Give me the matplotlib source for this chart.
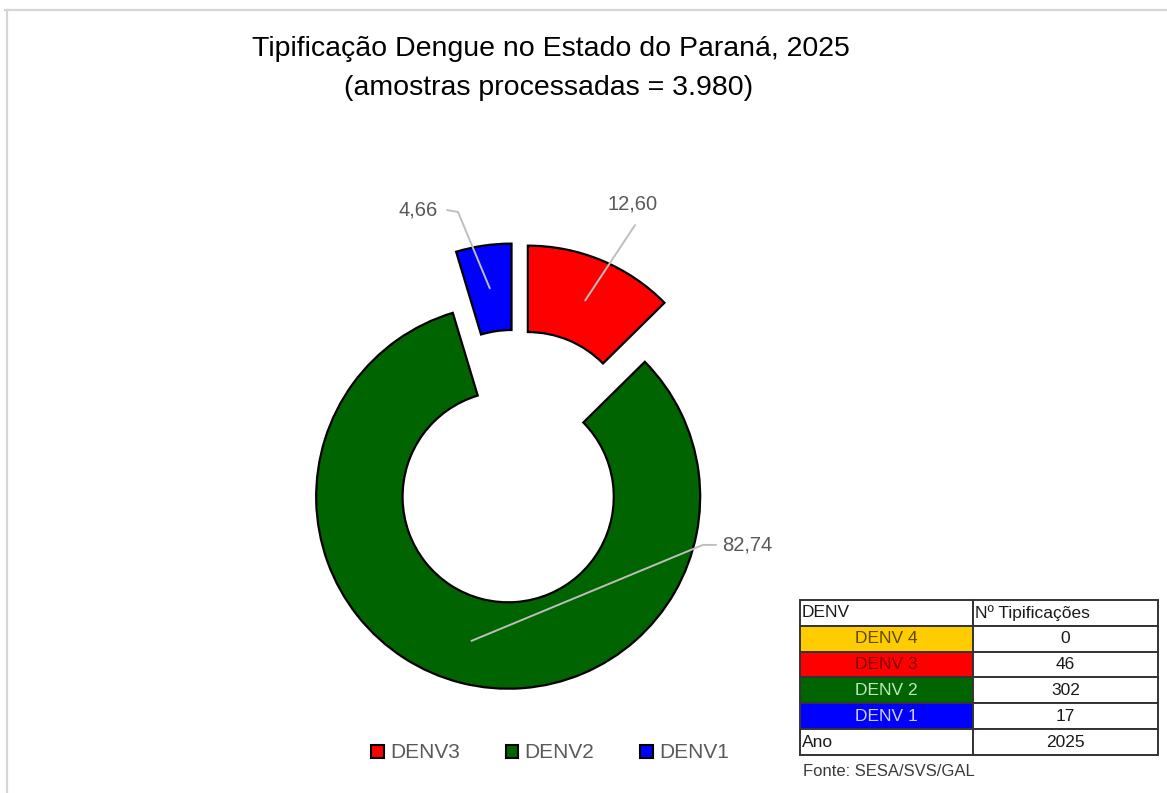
import matplotlib
matplotlib.use("Agg")
import matplotlib.pyplot as plt
import numpy as np
from matplotlib.patches import Patch
from matplotlib.lines import Line2D

plt.rcParams["font.family"] = ["Liberation Sans", "DejaVu Sans"]

# ---- data ----
pie_labels = ["DENV3", "DENV2", "DENV1"]
pie_counts = [46, 302, 17]
pie_colors = ["#FF0000", "#006400", "#0000FF"]

table_types = ["DENV 4", "DENV 3", "DENV 2", "DENV 1"]
table_counts = [0, 46, 302, 17]
table_fill = ["#FFCC00", "#FF0000", "#006400", "#0000FF"]
table_txt = ["#5C4A00", "#7A0000", "#BFE8BF", "#D0D0FF"]
ano = 2025
amostras = "3.980"

GRAY = "#595959"
W, H = 1167, 793
PX = 192.0            # pixels per data unit (pie radius = 1)
CX, CY = 516, 466     # pie centre in pixels

fig = plt.figure(figsize=(W / 100, H / 100), dpi=100)
ax = fig.add_axes([0, 0, 1, 1])

wedges, _ = ax.pie(pie_counts, colors=pie_colors, startangle=90, counterclock=False,
                   explode=[0.16, 0.165, 0.16], radius=1,
                   wedgeprops=dict(width=0.45, edgecolor="black", linewidth=1.6))
ax.set_xlim(-CX / PX, (W - CX) / PX)
ax.set_ylim((CY - H) / PX, CY / PX)
ax.set_aspect("auto")
ax.axis("off")

# percentage labels with leader lines from the middle of each ring segment
pct = np.array(pie_counts) / sum(pie_counts) * 100
label_pos = [(0.609, 1.362), (1.203, -0.411), (-0.510, 1.333)]
bends = [[(0.620, 1.255)], [(0.974, -0.411), (1.042, -0.411)], [(-0.302, 1.323), (-0.359, 1.333)]]
for w, p, lp, bend in zip(wedges, pct, label_pos, bends):
    mid = np.deg2rad((w.theta1 + w.theta2) / 2)
    rr = w.r - w.width / 2
    ax0 = w.center[0] + rr * np.cos(mid)
    ay0 = w.center[1] + rr * np.sin(mid)
    xs = [ax0] + [b[0] for b in bend]
    ys = [ay0] + [b[1] for b in bend]
    ax.plot(xs, ys, color="#BEBEBE", lw=1.4, solid_capstyle="round")
    ax.text(lp[0], lp[1], f"{p:.2f}".replace(".", ","), ha="center", va="center",
            fontsize=14.5, color=GRAY)

# title
fig.text(551 / W, 1 - 56 / H, "Tipificação Dengue no Estado do Paraná, 2025",
         ha="center", va="baseline", fontsize=20.5, color="black")
fig.text(549 / W, 1 - 95 / H, f"(amostras processadas = {amostras})",
         ha="center", va="baseline", fontsize=20.5, color="black")

# legend
handles = [Patch(facecolor=c, edgecolor="black", linewidth=1.5) for c in pie_colors]
leg = fig.legend(handles, pie_labels, loc="center", bbox_to_anchor=(550 / W, 1 - 753 / H),
                 ncol=3, frameon=False, fontsize=15, handlelength=0.6, handleheight=0.6,
                 handletextpad=0.3, columnspacing=2.2, labelcolor=GRAY)

# summary table
cell_text = [["DENV", "Nº Tipificações"]] + [[t, str(c)] for t, c in zip(table_types, table_counts)] \
            + [["Ano", str(ano)]]
cell_colors = [["white", "white"]] + [[f, "white"] for f in table_fill] + [["white", "white"]]
tb = ax.table(cellText=cell_text, cellColours=cell_colors, cellLoc="center",
              colWidths=[0.483, 0.517],
              bbox=[800 / W, 1 - 755 / H, 358 / W, 155 / H])
tb.auto_set_font_size(False)
tb.set_fontsize(12.5)
for (r, c), cell in tb.get_celld().items():
    cell.set_linewidth(1.4)
    cell.set_edgecolor("#333333")
    cell.get_text().set_color("#1a1a1a")
    if (r == 0) or (r == 5 and c == 0):
        cell._loc = "left"
        cell.PAD = 0.012
        cell.get_text().set_ha("left")
    if 1 <= r <= 4 and c == 0:
        cell.get_text().set_color(table_txt[r - 1])

fig.text(803 / W, 1 - 771 / H, "Fonte: SESA/SVS/GAL", ha="left", va="center",
         fontsize=12, color="#3a3a3a")

# light frame of the original screenshot
fig.add_artist(Line2D([5 / W, 1], [1 - 10 / H, 1 - 10 / H], color="#D6D6D6", lw=1.6))
fig.add_artist(Line2D([7 / W, 7 / W], [0, 1 - 10 / H], color="#D6D6D6", lw=1.6))

fig.savefig("out.png", dpi=100)
